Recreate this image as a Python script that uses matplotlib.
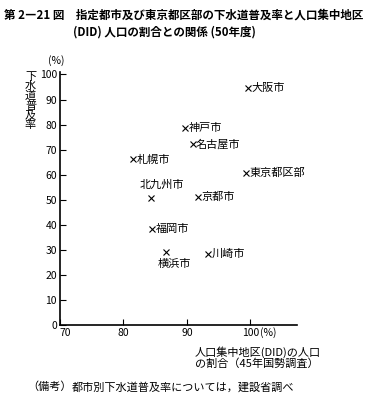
import matplotlib
matplotlib.use('Agg')
import matplotlib.pyplot as plt

plt.rcParams['font.family'] = ['Noto Sans CJK JP', 'DejaVu Sans']

# data
cities = ['大阪市', '神戸市', '名古屋市', '札幌市', '北九州市', '京都市',
          '東京都区部', '福岡市', '横浜市', '川崎市']
did_share = [99.6, 89.7, 90.9, 81.5, 84.3, 91.7, 99.3, 84.5, 86.7, 93.3]
sewer_rate = [94.8, 78.5, 72.1, 66.1, 50.6, 51.0, 60.6, 38.2, 29.1, 28.3]
# label placement (offset in points, alignment)
label_pos = {'北九州市': (-8, 6, 'left', 'bottom'),
             '横浜市': (-6, -5, 'left', 'top')}
xticks = [70, 80, 90, 100]
yticks = [0, 10, 20, 30, 40, 50, 60, 70, 80, 90, 100]

fig = plt.figure(figsize=(3.67, 4.01), dpi=100)
ax = fig.add_axes([0.163, 0.1895, 0.6458, 0.631])

ax.plot(did_share, sewer_rate, 'x', color='black', markersize=4, markeredgewidth=0.8)
for name, x, y in zip(cities, did_share, sewer_rate):
    dx, dy, ha, va = label_pos.get(name, (2.5, 0, 'left', 'center'))
    ax.annotate(name, (x, y), xytext=(dx, dy), textcoords='offset points',
                ha=ha, va=va, fontsize=8)

ax.set_xlim(70, 107.3)
ax.set_ylim(0, 101)
ax.set_xticks(xticks)
ax.set_xticklabels([str(v) for v in xticks])
ax.get_xticklabels()[0].set_horizontalalignment('left')
ax.set_yticks(yticks)
ax.set_yticklabels([str(v) for v in yticks])
ax.tick_params(direction='in', length=4, width=0.8, labelsize=7.5, pad=2)
for s in ['top', 'right']:
    ax.spines[s].set_visible(False)
for s in ['left', 'bottom']:
    ax.spines[s].set_linewidth(1.2)

fig.text(0.012, 0.962, '第 2―21 図　指定都市及び東京都区部の下水道普及率と人口集中地区',
         fontsize=8.3, fontweight='bold', ha='left', va='center')
fig.text(0.2, 0.92, '(DID) 人口の割合との関係 (50年度)',
         fontsize=8.3, fontweight='bold', ha='left', va='center')

fig.text(0.153, 0.85, '(%)', fontsize=7.5, ha='center', va='center')
fig.text(0.083, 0.748, '\n'.join('下水道普及率'), fontsize=8, ha='center', va='center',
         linespacing=0.95)
fig.text(0.708, 0.17, '(%)', fontsize=7.5, ha='left', va='center')

fig.text(0.531, 0.122, '人口集中地区(DID)の人口', fontsize=8, ha='left', va='center')
fig.text(0.531, 0.093, 'の割合（45年国勢調査）', fontsize=8, ha='left', va='center')
fig.text(0.074, 0.035, '（備考）', fontsize=8, ha='left', va='center')
fig.text(0.196, 0.035, '都市別下水道普及率については，建設省調べ',
         fontsize=8, ha='left', va='center')

fig.savefig('out.png', dpi=100)
